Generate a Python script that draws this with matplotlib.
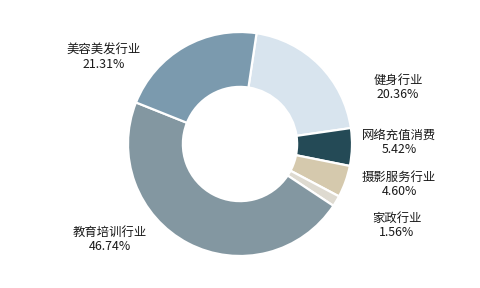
import matplotlib
matplotlib.use("Agg")
import matplotlib.pyplot as plt

plt.rcParams['font.family'] = ['Noto Sans CJK SC', 'DejaVu Sans']

# Industry shares (percent), clockwise from the top
categories = ['健身行业', '网络充值消费', '摄影服务行业', '家政行业', '教育培训行业', '美容美发行业']
shares = [20.36, 5.42, 4.60, 1.56, 46.74, 21.31]
colors = ['#d8e4ee', '#244a56', '#d5c9ad', '#dedad0', '#8397a1', '#7b9aae']

# Label anchor points (pixel coordinates, y measured from the top)
label_pos = [(398, 80), (399, 135), (399, 177), (397, 218), (110, 232), (104, 50)]

W, H = 480, 288
fig = plt.figure(figsize=(W / 100, H / 100), dpi=100)
ax = fig.add_axes([0, 0, 1, 1])

cx, cy, r = 240, 144, 112
ax.pie(shares, colors=colors, startangle=81.5, counterclock=False,
       center=(cx, H - cy), radius=r,
       wedgeprops=dict(width=r * 0.49, edgecolor='white', linewidth=1.6))

for name, val, (lx, ly) in zip(categories, shares, label_pos):
    ax.text(lx, H - ly, name, ha='center', va='center', fontsize=8.9, color='#1a1a1a')
    ax.text(lx, H - ly - 14.5, f'{val:.2f}%', ha='center', va='center', fontsize=8.9, color='#1a1a1a')

ax.set_xlim(0, W)
ax.set_ylim(0, H)
ax.set_aspect('equal')
ax.axis('off')
fig.savefig('out.png', dpi=100, facecolor='white')
